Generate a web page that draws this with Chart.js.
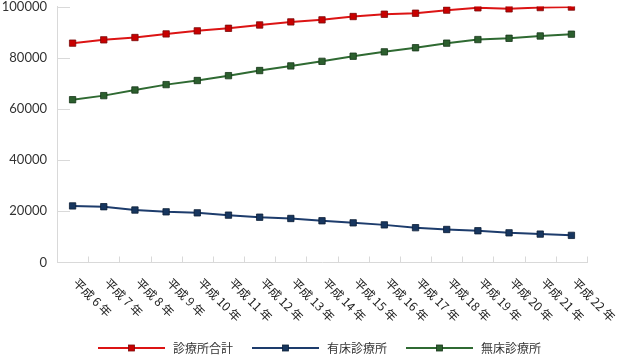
<!DOCTYPE html>
<html><head><meta charset="utf-8">
<script src="https://cdn.jsdelivr.net/npm/chart.js@4/dist/chart.umd.min.js"></script>
<style>html,body{margin:0;padding:0;background:#fff}</style>
</head><body>
<canvas id="c" width="620" height="355"></canvas>
<script>
const categories = ['平成 6 年','平成 7 年','平成 8 年','平成 9 年','平成 10 年','平成 11 年','平成 12 年','平成 13 年','平成 14 年','平成 15 年','平成 16 年','平成 17 年','平成 18 年','平成 19 年','平成 20 年','平成 21 年','平成 22 年'];
const totalClinics = [85700, 87000, 87900, 89300, 90500, 91500, 92800, 94000, 94800, 96100, 97000, 97400, 98600, 99500, 99100, 99600, 99800];
const bedClinics = [22100, 21800, 20500, 19800, 19400, 18500, 17700, 17200, 16300, 15500, 14700, 13600, 12900, 12400, 11600, 11100, 10600];
const nonBedClinics = [63600, 65200, 67400, 69500, 71100, 73000, 75000, 76800, 78600, 80600, 82300, 83900, 85700, 87100, 87600, 88500, 89200];
const yTicks = [0, 20000, 40000, 60000, 80000, 100000];
const seriesNames = ['診療所合計', '有床診療所', '無床診療所'];

const lineColors = ['#dc1414', '#1d3c6c', '#2f6a32'];
const pointFills = ['#c80000', '#17365f', '#2c5f2e'];
const pointBorders = ['#7a0a0a', '#0c1e36', '#173619'];
const seriesData = [totalClinics, bedClinics, nonBedClinics];

const decor = {
  id: 'decor',
  beforeDatasetsDraw(chart) {
    const {ctx} = chart; const xs = chart.scales.x, ys = chart.scales.y;
    ctx.save(); ctx.strokeStyle = '#d9d9d9'; ctx.lineWidth = 1;
    ctx.beginPath();
    ys.ticks.forEach(t => {
      if (t.value === 0) return;
      const py = Math.round(ys.getPixelForValue(t.value)) + 0.5;
      ctx.moveTo(xs.left, py); ctx.lineTo(xs.left + 13, py);
    });
    for (let i = 0; i < categories.length; i++) {
      const px = Math.round(xs.getPixelForValue(i + 0.5)) + 0.5;
      ctx.moveTo(px, ys.bottom); ctx.lineTo(px, ys.bottom - 6);
    }
    ctx.stroke(); ctx.restore();
  },
  afterDraw(chart) {
    const {ctx} = chart; const xs = chart.scales.x, ys = chart.scales.y;
    ctx.save();
    ctx.fillStyle = '#222';
    ctx.font = '12px "Noto Sans CJK JP", sans-serif';
    ctx.textAlign = 'left'; ctx.textBaseline = 'middle';
    categories.forEach((lab, i) => {
      const px = xs.getPixelForValue(i);
      ctx.save();
      ctx.translate(px + 3, ys.bottom + 18);
      ctx.rotate(Math.PI / 4);
      ctx.fillText(lab, 0, 0);
      ctx.restore();
    });
    // legend
    let cx = 98; const ly = 348;
    chart.data.datasets.forEach((ds, k) => {
      ctx.strokeStyle = ds.borderColor; ctx.lineWidth = 2;
      ctx.beginPath(); ctx.moveTo(cx, ly); ctx.lineTo(cx + 67, ly); ctx.stroke();
      ctx.fillStyle = ds.pointBackgroundColor;
      ctx.fillRect(cx + 33.5 - 3, ly - 3, 6, 6);
      ctx.strokeStyle = ds.pointBorderColor; ctx.lineWidth = 0.8;
      ctx.strokeRect(cx + 33.5 - 3, ly - 3, 6, 6);
      ctx.fillStyle = '#333';
      ctx.fillText(ds.label, cx + 75, ly);
      cx += 75 + ctx.measureText(ds.label).width + 19;
    });
    ctx.restore();
  }
};

new Chart(document.getElementById('c'), {
  type: 'line',
  data: {
    labels: categories,
    datasets: seriesData.map((d, k) => ({
      label: seriesNames[k],
      data: d,
      borderColor: lineColors[k],
      backgroundColor: lineColors[k],
      pointBackgroundColor: pointFills[k],
      pointBorderColor: pointBorders[k],
      pointBorderWidth: 0.8,
      pointStyle: 'rect',
      pointRadius: 4.5,
      borderWidth: 2,
      tension: 0,
      fill: false
    }))
  },
  options: {
    responsive: false,
    animation: false,
    devicePixelRatio: 1,
    layout: {padding: {top: 6, right: 33, bottom: 0, left: 0}},
    plugins: {legend: {display: false}, tooltip: {enabled: false}},
    scales: {
      x: {
        type: 'category',
        offset: true,
        grid: {display: false},
        border: {display: true, color: '#d9d9d9', width: 1},
        ticks: {display: false},
        afterFit: s => { s.height = 92.5; }
      },
      y: {
        min: 0, max: 100000,
        grid: {display: false, drawTicks: true, tickLength: 8},
        border: {display: true, color: '#d9d9d9', width: 1},
        afterBuildTicks: s => { s.ticks = yTicks.map(v => ({value: v})); },
        afterFit: s => { s.width = 57; },
        ticks: {
          padding: 2,
          color: '#333',
          font: {family: 'Lato', size: 13, lineHeight: 0.7},
          callback: v => String(v)
        }
      }
    }
  },
  plugins: [decor]
});
</script>
</body></html>
